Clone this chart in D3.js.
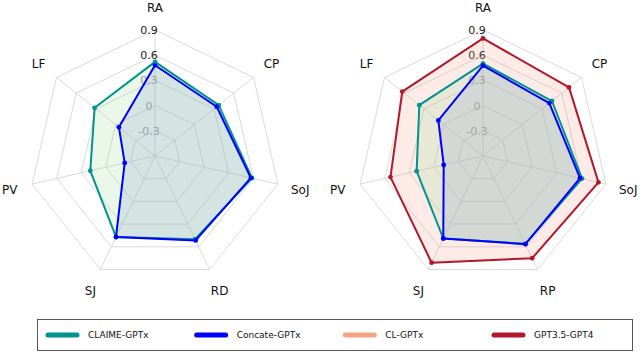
<!DOCTYPE html>
<html><head><meta charset="utf-8">
<script src="https://cdn.jsdelivr.net/npm/d3@7"></script>
<style>body{margin:0;background:#fff}svg{display:block}</style></head>
<body><svg id="c" width="640" height="353"></svg>
<script>
// ---- data ----
const axesLeft = ["RA", "CP", "SoJ", "RD", "SJ", "PV", "LF"];
const axesRight = ["RA", "CP", "SoJ", "RP", "SJ", "PV", "LF"];
const tickValues = [-0.3, 0, 0.3, 0.6, 0.9];
const tickLabels = ["-0.3", "0", "0.3", "0.6", "0.9"];
const seriesNames = ["CLAIME-GPTx", "Concate-GPTx", "CL-GPTx", "GPT3.5-GPT4"];
const leftClaime = [0.52, 0.37, 0.585, 0.50, 0.47, 0.19, 0.32];
const leftConcate = [0.48, 0.34, 0.57, 0.515, 0.47, -0.23, -0.05];
const rightClaime = [0.50, 0.45, 0.61, 0.56, 0.49, 0.21, 0.37];
const rightConcate = [0.475, 0.41, 0.585, 0.565, 0.49, -0.12, 0.08];
const rightGpt = [0.80, 0.71, 0.81, 0.75, 0.81, 0.53, 0.63];

// ---- styles ----
const lineColors = {"CLAIME-GPTx": "#009390", "Concate-GPTx": "#0000ff", "CL-GPTx": "#f4a582", "GPT3.5-GPT4": "#b2182b"};
const fillColors = {"CLAIME-GPTx": "#8fdc8f", "Concate-GPTx": "#98a8d0", "CL-GPTx": "#f4a582", "GPT3.5-GPT4": "#f59a8c"};
const fillOpacity = {"CLAIME-GPTx": 0.2, "Concate-GPTx": 0.25, "CL-GPTx": 0.2, "GPT3.5-GPT4": 0.2};

const svg = d3.select("#c");
const R = 126;
const r = d3.scaleLinear().domain([-0.6, 0.9]).range([0, R]);

function radar(cx, cy, axes, series) {
  const g = svg.append("g").attr("transform", `translate(${cx},${cy})`);
  const n = axes.length;
  const ang = d3.scaleLinear().domain([0, n]).range([0, 2 * Math.PI]);
  const pt = (i, v) => [r(v) * Math.sin(ang(i)), -r(v) * Math.cos(ang(i))];
  const line = d3.line();
  tickValues.forEach(t => {
    g.append("path").attr("d", line(d3.range(n + 1).map(i => pt(i % n, t))))
      .attr("fill", "none").attr("stroke", "#d6d6d6").attr("stroke-width", 0.9);
  });
  axes.forEach((a, i) => {
    const p = pt(i, 0.9);
    g.append("line").attr("x1", 0).attr("y1", 0).attr("x2", p[0]).attr("y2", p[1])
      .attr("stroke", "#d6d6d6").attr("stroke-width", 0.9);
  });
  tickValues.forEach((t, k) => {
    g.append("text").attr("x", -6).attr("y", -r(t)).attr("dy", "0.36em")
      .attr("text-anchor", "middle").attr("font-family", "DejaVu Sans").attr("font-size", 11)
      .attr("fill", t >= 0.6 ? "#222" : "#999").text(tickLabels[k]);
  });
  axes.forEach((a, i) => {
    const rr = 149;
    const x = rr * Math.sin(ang(i)), y = -rr * Math.cos(ang(i));
    g.append("text").attr("x", x).attr("y", y).attr("dy", "0.4em")
      .attr("text-anchor", "middle").attr("font-family", "DejaVu Sans").attr("font-size", 12)
      .attr("fill", "#111").text(a);
  });
  series.forEach(s => {
    const pts = s.values.map((v, i) => pt(i, v));
    g.append("path").attr("d", line([...pts, pts[0]]))
      .attr("fill", fillColors[s.name]).attr("fill-opacity", fillOpacity[s.name]).attr("stroke", "none");
  });
  series.forEach(s => {
    const pts = s.values.map((v, i) => pt(i, v));
    g.append("path").attr("d", line([...pts, pts[0]]))
      .attr("fill", "none").attr("stroke", lineColors[s.name]).attr("stroke-width", 2)
      .attr("stroke-linejoin", "round");
    g.selectAll(null).data(pts).enter().append("circle")
      .attr("cx", d => d[0]).attr("cy", d => d[1]).attr("r", 2.4).attr("fill", lineColors[s.name]);
  });
}

radar(155, 156, axesLeft, [
  {name: "CLAIME-GPTx", values: leftClaime},
  {name: "Concate-GPTx", values: leftConcate}
]);
radar(483, 156, axesRight, [
  {name: "GPT3.5-GPT4", values: rightGpt},
  {name: "CLAIME-GPTx", values: rightClaime},
  {name: "Concate-GPTx", values: rightConcate}
]);

const lg = svg.append("g");
lg.append("rect").attr("x", 37.5).attr("y", 319.5).attr("width", 595).attr("height", 31)
  .attr("fill", "#fff").attr("stroke", "#555").attr("stroke-width", 1);
const lx = d3.scalePoint().domain(seriesNames).range([46, 492]);
seriesNames.forEach(nm => {
  const x0 = lx(nm);
  lg.append("line").attr("x1", x0 + 2).attr("x2", x0 + 31).attr("y1", 335).attr("y2", 335)
    .attr("stroke", lineColors[nm]).attr("stroke-width", 5).attr("stroke-linecap", "round");
  lg.append("text").attr("x", x0 + 42).attr("y", 335).attr("dy", "0.36em")
    .attr("font-family", "DejaVu Sans").attr("font-size", 9).attr("fill", "#111").text(nm);
});
</script></body></html>
